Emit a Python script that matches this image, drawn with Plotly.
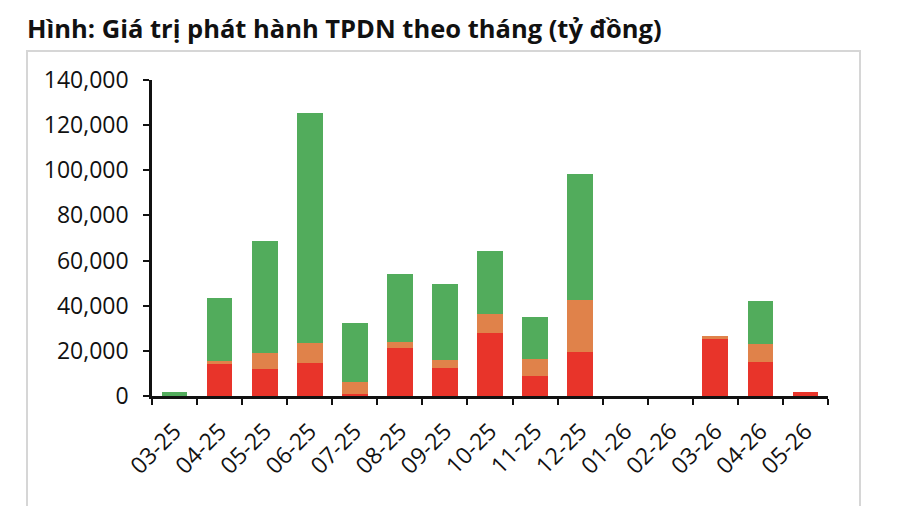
import plotly.graph_objects as go

months = ["03-25", "04-25", "05-25", "06-25", "07-25", "08-25", "09-25", "10-25",
          "11-25", "12-25", "01-26", "02-26", "03-26", "04-26", "05-26"]
bat_dong_san = [0, 14000, 11800, 14500, 900, 21100, 12550, 28050, 9000, 19650, 0, 0, 25100, 14900, 1600]
khac = [0, 1500, 7100, 8850, 5450, 2800, 3250, 8250, 7250, 22850, 0, 0, 1500, 8100, 0]
ngan_hang = [1600, 28050, 49750, 102150, 25850, 30150, 33800, 28080, 18600, 55700, 0, 0, 0, 19200, 0]
y_ticks = [0, 20000, 40000, 60000, 80000, 100000, 120000, 140000]

RED = "#e8342a"
ORANGE = "#e0824a"
GREEN = "#52ac5c"

fig = go.Figure()
fig.add_trace(go.Bar(x=months, y=bat_dong_san, name="Bất động sản", marker_color=RED, marker_line_width=0))
fig.add_trace(go.Bar(x=months, y=khac, name="Khác", marker_color=ORANGE, marker_line_width=0))
fig.add_trace(go.Bar(x=months, y=ngan_hang, name="Ngân hàng", marker_color=GREEN, marker_line_width=0))

L, R, T, B = 152, 72, 80, 110
W, H = 900, 506
pw, ph = W - L - R, H - T - B

fig.update_layout(
    width=W, height=H,
    barmode="stack", bargap=0.43,
    showlegend=False,
    paper_bgcolor="white", plot_bgcolor="white",
    margin=dict(l=L, r=R, t=T, b=B, pad=0),
    font=dict(family="Open Sans", color="#111111"),
    title=dict(text="<b>Hình: Giá trị phát hành TPDN theo tháng (tỷ đồng)</b>",
               x=27 / W, xanchor="left", xref="container",
               y=1 - 29 / H, yanchor="middle", yref="container",
               font=dict(family="Open Sans", size=25.5, color="#111111")),
    xaxis=dict(
        type="category", tickangle=-45, tickson="boundaries",
        ticks="outside", ticklen=6, tickwidth=2, tickcolor="#111",
        showline=True, linecolor="#111", linewidth=2.5,
        showgrid=False, tickfont=dict(size=23), ticklabelstandoff=10,
    ),
    yaxis=dict(
        range=[0, 140000], tickvals=y_ticks, tickformat=",",
        ticks="outside", ticklen=6, tickwidth=2, tickcolor="#111",
        showline=True, linecolor="#111", linewidth=2.5,
        showgrid=False, zeroline=False, tickfont=dict(size=23),
        ticklabelstandoff=10,
    ),
    shapes=[dict(
        type="rect", xref="paper", yref="paper",
        x0=(27 - L) / pw, x1=(860 - L) / pw,
        y0=(H - B - 530) / ph, y1=(H - B - 51) / ph,
        line=dict(color="#d6d6d6", width=2), fillcolor="rgba(0,0,0,0)", layer="below",
    )],
)

fig.write_html("out.html")
